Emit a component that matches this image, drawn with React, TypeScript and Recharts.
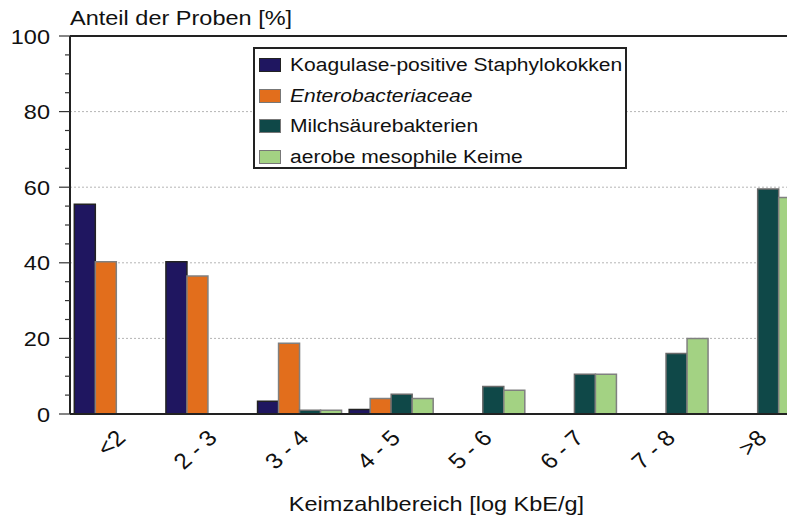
import React from 'react';
import { BarChart, Bar, XAxis, YAxis, CartesianGrid, ReferenceLine } from 'recharts';

const categories = ['<2', '2 - 3', '3 - 4', '4 - 5', '5 - 6', '6 - 7', '7 - 8', '>8'];
const koagulase = [55.5, 40.3, 3.4, 1.2, 0, 0, 0, 0];
const entero = [40.3, 36.5, 18.7, 4.1, 0, 0, 0, 0];
const milchsaeure = [0, 0, 1.0, 5.2, 7.3, 10.5, 16.0, 59.5];
const aerobe = [0, 0, 1.0, 4.1, 6.3, 10.5, 20.0, 57.3];
const yTicks = [0, 5, 10, 15, 20, 25, 30, 35, 40, 45, 50, 55, 60, 65, 70, 75, 80, 85, 90, 95, 100];
const gridValues = [20, 40, 60, 80];

const series = [
  { key: 'k', name: 'Koagulase-positive Staphylokokken', color: '#1f1660', stroke: '#222', italic: false },
  { key: 'e', name: 'Enterobacteriaceae', color: '#e26e1c', stroke: '#808080', italic: true },
  { key: 'm', name: 'Milchsäurebakterien', color: '#0f4848', stroke: '#6a6a6a', italic: false },
  { key: 'a', name: 'aerobe mesophile Keime', color: '#a3d283', stroke: '#808080', italic: false },
];

const data = categories.map((c, i) => ({
  cat: c,
  k: koagulase[i],
  e: entero[i],
  m: milchsaeure[i],
  a: aerobe[i],
}));

const FONT = '"Liberation Sans", Arial, sans-serif';
const SX = 1.12;

const YTick = (props: any) => {
  const { x, y, payload } = props;
  const v = payload.value;
  const major = v % 20 === 0;
  return (
    <g>
      <line x1={x - (major ? 11 : 5)} x2={x} y1={y} y2={y} stroke="#333" strokeWidth={1.2} />
      {major && (
        <text transform={`translate(${x - 20},${y}) scale(${SX},1)`} dy="0.36em" textAnchor="end" fontSize={21} fill="#111" fontFamily={FONT}>
          {v}
        </text>
      )}
    </g>
  );
};

const XTick = (props: any) => {
  const { x, y, payload } = props;
  return (
    <g transform={`translate(${x + 5},${y + 20}) scale(${SX},1)`}>
      <text textAnchor="end" dy="0.35em" transform="rotate(-45)" fontSize={22} fill="#111" fontFamily={FONT}>
        {payload.value}
      </text>
    </g>
  );
};

const XTitle = (props: any) => {
  const vb = props.viewBox;
  return (
    <text transform={`translate(${vb.x + vb.width / 2},${vb.y + 97}) scale(${SX},1)`} textAnchor="middle" fontSize={21} fill="#111" fontFamily={FONT}>
      Keimzahlbereich [log KbE/g]
    </text>
  );
};

const YTitle = (props: any) => {
  const vb = props.viewBox;
  return (
    <text transform={`translate(${vb.x + vb.width},${vb.y - 11}) scale(${SX},1)`} textAnchor="start" fontSize={21} fill="#111" fontFamily={FONT}>
      Anteil der Proben [%]
    </text>
  );
};

export default function App() {
  return (
    <div style={{ position: 'relative', width: 795, height: 519, overflow: 'hidden', margin: '-8px -8px 0 -8px', background: '#fff', fontFamily: FONT }}>
      <BarChart
        width={810}
        height={519}
        data={data}
        margin={{ top: 36, right: 7, bottom: 0, left: 0 }}
        barCategoryGap="4.7%"
        barGap={0}
      >
        <CartesianGrid vertical={false} horizontalValues={gridValues} stroke="#b5b5b5" strokeDasharray="2 2" />
        <XAxis
          dataKey="cat"
          height={105}
          tickLine={false}
          tickSize={0}
          tickMargin={0}
          interval={0}
          axisLine={{ stroke: '#222', strokeWidth: 2 }}
          tick={<XTick />}
          label={{ content: <XTitle /> }}
        />
        <YAxis
          width={70}
          domain={[0, 100]}
          ticks={yTicks}
          interval={0}
          tickLine={false}
          tickSize={0}
          tickMargin={0}
          axisLine={{ stroke: '#222', strokeWidth: 2 }}
          tick={<YTick />}
          label={{ content: <YTitle /> }}
        />
        <ReferenceLine y={100} stroke="#222" strokeWidth={2} />
        {series.map((s) => (
          <Bar key={s.key} dataKey={s.key} name={s.name} fill={s.color} stroke={s.stroke} strokeWidth={1.5} isAnimationActive={false} />
        ))}
      </BarChart>
      <div
        style={{
          position: 'absolute',
          left: 253,
          top: 47,
          width: 370,
          height: 118,
          border: '2px solid #222',
          background: '#fff',
          boxSizing: 'content-box',
        }}
      >
        {series.map((s, i) => (
          <div key={s.key} style={{ position: 'absolute', left: 4, top: 1 + i * 30.7, height: 30, display: 'flex', alignItems: 'center' }}>
            <div style={{ width: 20, height: 12, background: s.color, border: `1.5px solid ${s.stroke === '#222' ? '#222' : '#777'}` }} />
            <span
              style={{
                marginLeft: 9,
                fontSize: 18.8,
                color: '#111',
                fontStyle: s.italic ? 'italic' : 'normal',
                whiteSpace: 'nowrap',
                display: 'inline-block',
                transform: `scaleX(${SX})`,
                transformOrigin: 'left center',
              }}
            >
              {s.name}
            </span>
          </div>
        ))}
      </div>
    </div>
  );
}
